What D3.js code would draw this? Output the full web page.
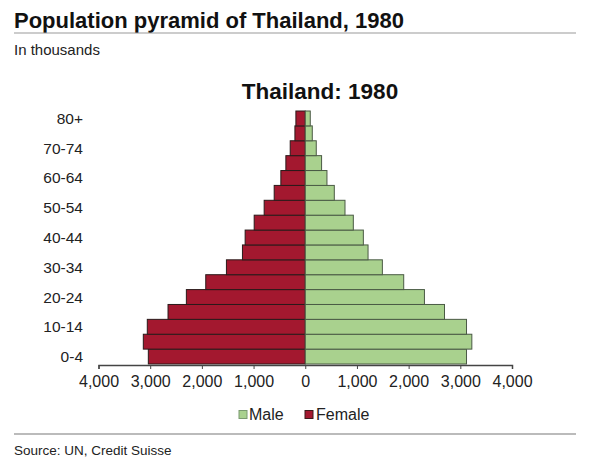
<!DOCTYPE html>
<html>
<head>
<meta charset="utf-8">
<script src="https://cdn.jsdelivr.net/npm/d3@7"></script>
<style>
  body { margin: 0; background: #fff; }
  text { font-family: "Liberation Sans", Arial, sans-serif; }
</style>
</head>
<body>
<div id="chart"></div>
<script>
// Data (thousands)
const ageGroups = ["0-4","5-9","10-14","15-19","20-24","25-29","30-34","35-39","40-44",
                   "45-49","50-54","55-59","60-64","65-69","70-74","75-79","80+"];
const female = [3036, 3133, 3056, 2655, 2300, 1925, 1525, 1215, 1163,
                988, 795, 601, 472, 375, 291, 200, 181];
const male = [3120, 3223, 3120, 2694, 2306, 1905, 1492, 1215, 1124,
              930, 769, 562, 420, 316, 213, 136, 97];
const xTicks = [-4000, -3000, -2000, -1000, 0, 1000, 2000, 3000, 4000];
const labelledAges = ["0-4","10-14","20-24","30-34","40-44","50-54","60-64","70-74","80+"];

const width = 600;
const height = 474;
const femaleColor = "#a3182f";
const maleColor = "#a9d18e";

const svg = d3.select("#chart")
    .append("svg")
    .attr("width", width)
    .attr("height", height);

// Header
svg.append("text")
    .attr("x", 14)
    .attr("y", 28)
    .text("Population pyramid of Thailand, 1980")
    .style("font-size", "22px")
    .style("font-weight", "bold")
    .style("fill", "#111");

svg.append("line")
    .attr("x1", 14).attr("x2", 576)
    .attr("y1", 33).attr("y2", 33)
    .attr("stroke", "#999")
    .attr("stroke-width", 1.2);

svg.append("text")
    .attr("x", 14)
    .attr("y", 55)
    .text("In thousands")
    .style("font-size", "15px")
    .style("fill", "#222");

svg.append("text")
    .attr("x", 320)
    .attr("y", 99)
    .attr("text-anchor", "middle")
    .text("Thailand: 1980")
    .style("font-size", "22.5px")
    .style("font-weight", "bold")
    .style("fill", "#111");

// Scales
const x = d3.scaleLinear()
    .domain([-4000, 4000])
    .range([98.5, 512]);

const y = d3.scaleBand()
    .domain(ageGroups)
    .range([364, 111])
    .padding(0);

// Female bars
svg.append("g")
    .selectAll("rect")
    .data(ageGroups)
    .join("rect")
    .attr("x", (d, i) => x(-female[i]))
    .attr("y", d => y(d))
    .attr("width", (d, i) => x(0) - x(-female[i]))
    .attr("height", y.bandwidth())
    .attr("fill", femaleColor)
    .attr("stroke", "#2a1a1a")
    .attr("stroke-width", 1);

// Male bars
svg.append("g")
    .selectAll("rect")
    .data(ageGroups)
    .join("rect")
    .attr("x", x(0))
    .attr("y", d => y(d))
    .attr("width", (d, i) => x(male[i]) - x(0))
    .attr("height", y.bandwidth())
    .attr("fill", maleColor)
    .attr("stroke", "#4a5a44")
    .attr("stroke-width", 1);

// Age labels
svg.append("g")
    .selectAll("text")
    .data(labelledAges)
    .join("text")
    .attr("x", 83)
    .attr("y", d => y(d) + y.bandwidth() / 2 + 5.5)
    .attr("text-anchor", "end")
    .text(d => d)
    .style("font-size", "15.5px")
    .style("fill", "#222");

// X axis
const xAxis = svg.append("g")
    .attr("transform", "translate(0,365)")
    .call(d3.axisBottom(x)
        .tickValues(xTicks)
        .tickSize(4)
        .tickPadding(7)
        .tickFormat(d => d3.format(",")(Math.abs(d))));

xAxis.select(".domain").attr("stroke", "#444").attr("stroke-width", 1.5);
xAxis.selectAll(".tick line").attr("stroke", "#444");
xAxis.selectAll(".tick text")
    .style("font-size", "16px")
    .style("font-family", "'Liberation Sans', Arial, sans-serif")
    .style("fill", "#222");

// Legend
const legend = svg.append("g").attr("transform", "translate(0,420)");
const legendItems = [
    {label: "Male", color: maleColor, stroke: "#7a9a70", x: 239, tx: 249},
    {label: "Female", color: femaleColor, stroke: "#3a1a1a", x: 305, tx: 316}
];
legendItems.forEach(item => {
    legend.append("rect")
        .attr("x", item.x)
        .attr("y", -9.5)
        .attr("width", 8)
        .attr("height", 8)
        .attr("fill", item.color)
        .attr("stroke", item.stroke)
        .attr("stroke-width", 1);
    legend.append("text")
        .attr("x", item.tx)
        .attr("y", 0)
        .text(item.label)
        .style("font-size", "16px")
        .style("fill", "#222");
});

// Footer
svg.append("line")
    .attr("x1", 14).attr("x2", 576)
    .attr("y1", 434).attr("y2", 434)
    .attr("stroke", "#bbb")
    .attr("stroke-width", 2);

svg.append("text")
    .attr("x", 14)
    .attr("y", 455)
    .text("Source: UN, Credit Suisse")
    .style("font-size", "13.5px")
    .style("fill", "#222");
</script>
</body>
</html>
